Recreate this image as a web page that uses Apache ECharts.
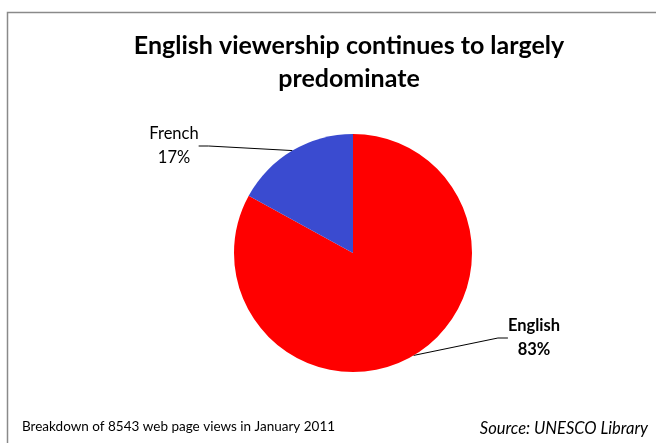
<!DOCTYPE html>
<html>
<head>
<meta charset="utf-8">
<script src="https://cdn.jsdelivr.net/npm/echarts@6/dist/echarts.min.js"></script>
<style>
html,body{margin:0;padding:0;background:#fff;}
#chart{width:656px;height:443px;}
</style>
</head>
<body>
<div id="chart"></div>
<script>
const categories = ['English', 'French'];
const shares = [83, 17];
const sliceColors = ['#FF0000', '#3A4BD0'];
const titleText = 'English viewership continues to largely\npredominate';
const noteText = 'Breakdown of 8543 web page views in January 2011';
const sourceText = 'Source: UNESCO Library';

const FONT = 'Lato, "Open Sans", sans-serif';
const labelSpots = [[534, 338], [174, 146]];

const chart = echarts.init(document.getElementById('chart'), null, {renderer: 'canvas'});
chart.setOption({
  backgroundColor: '#fff',
  animation: false,
  graphic: [{
    type: 'polyline',
    shape: {points: [[7.5, 460], [7.5, 12.5], [670, 12.5]]},
    style: {stroke: '#8a8a8a', lineWidth: 1.5, fill: null},
    silent: true
  }],
  title: [{
    text: titleText,
    left: 344, top: 24, textAlign: 'center',
    textStyle: {fontFamily: FONT, fontWeight: 'bold', fontSize: 25, lineHeight: 33, color: '#000'}
  }, {
    text: noteText,
    left: 17, top: 415,
    textStyle: {fontFamily: FONT, fontWeight: 'normal', fontSize: 13.5, color: '#000'}
  }, {
    text: sourceText,
    right: 3, top: 415,
    textStyle: {fontFamily: FONT, fontWeight: 'normal', fontStyle: 'italic', fontSize: 16.5, color: '#000'}
  }],
  series: [{
    type: 'pie',
    center: [353, 253],
    radius: [0, 119],
    startAngle: 90,
    clockwise: true,
    avoidLabelOverlap: false,
    data: categories.map((c, i) => ({
      name: c, value: shares[i],
      itemStyle: {color: sliceColors[i]},
      label: {fontWeight: i === 0 ? 'bold' : 'normal'}
    })),
    itemStyle: {borderWidth: 0},
    label: {
      show: true, position: 'outside',
      formatter: p => p.name + '\n' + Math.round(p.percent) + '%',
      fontFamily: FONT, fontSize: 16.5, lineHeight: 24, color: '#000', align: 'center'
    },
    labelLine: {show: true, length: 10, length2: 10, lineStyle: {color: '#000', width: 1}},
    labelLayout: p => ({
      x: labelSpots[p.dataIndex][0],
      y: labelSpots[p.dataIndex][1],
      align: 'center',
      verticalAlign: 'middle'
    })
  }]
});
</script>
</body>
</html>
